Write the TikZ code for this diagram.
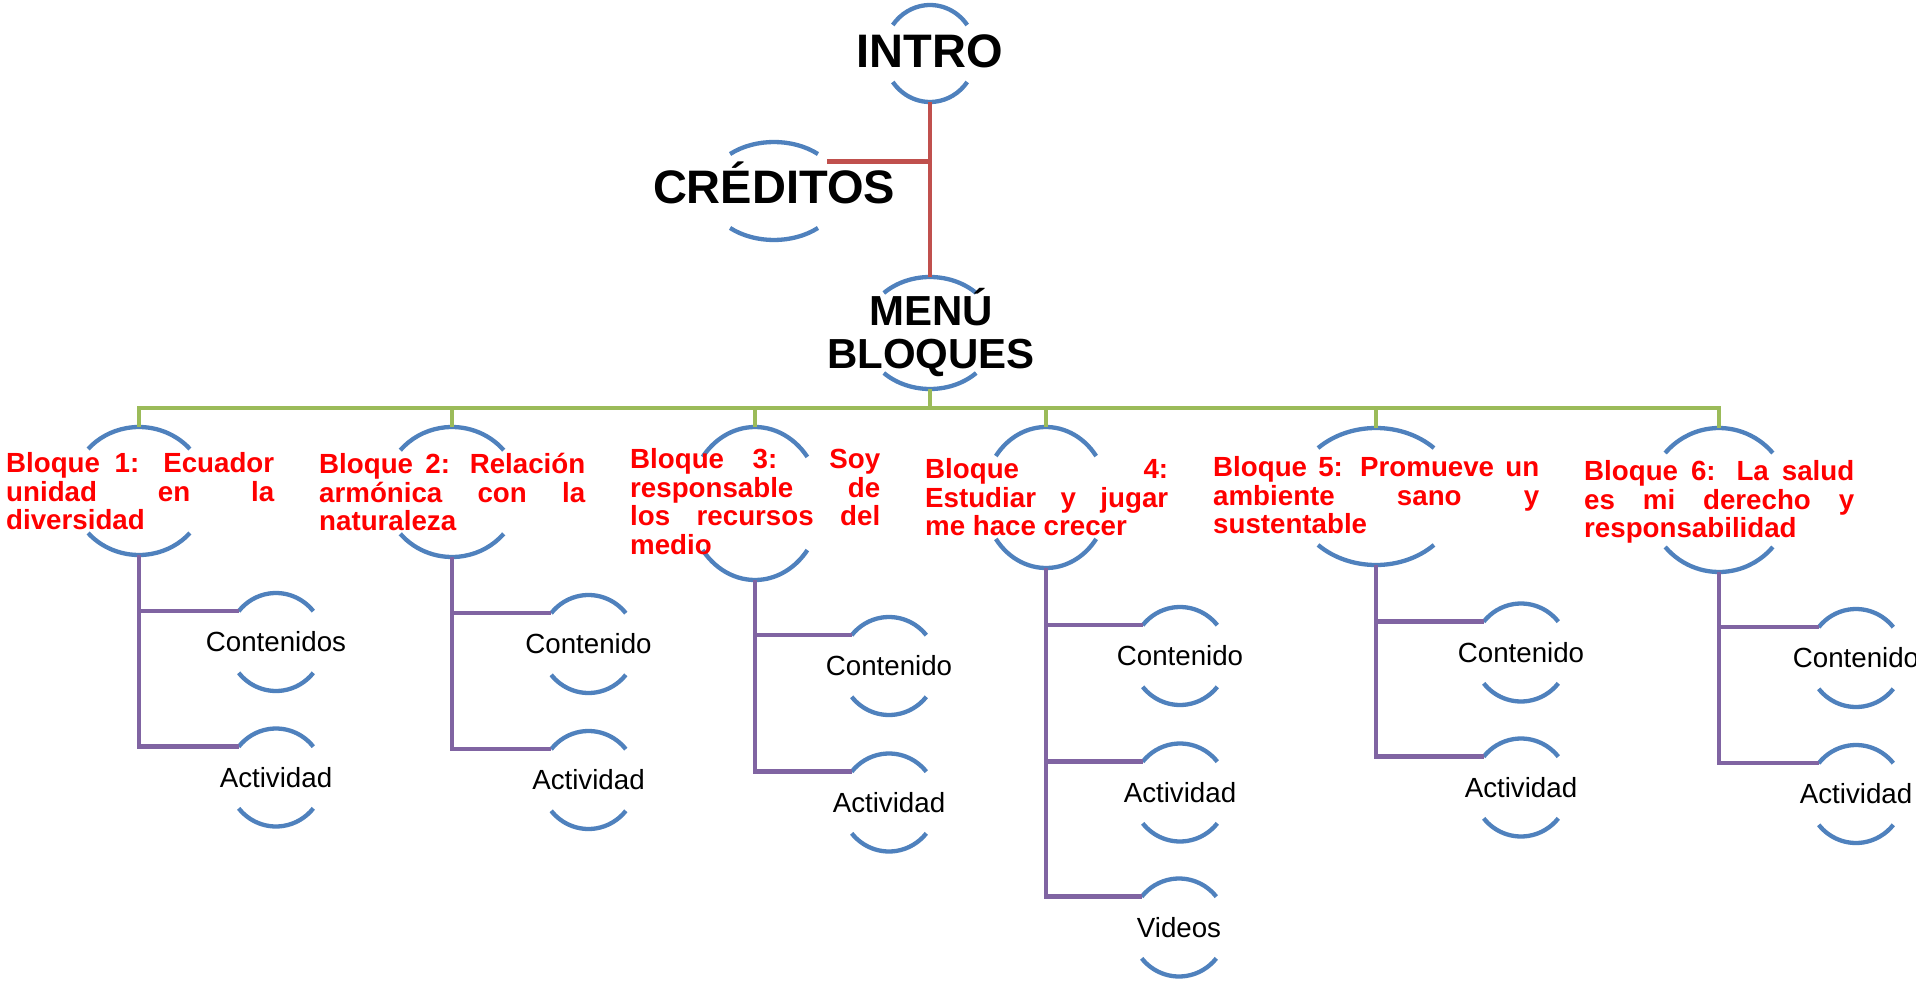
\documentclass[tikz,border=0pt]{standalone}
\usepackage{fontspec}
\setmainfont{Liberation Sans}
\usetikzlibrary{shapes.geometric}
\definecolor{ringblue}{HTML}{4F81BD}
\definecolor{lnred}{HTML}{C0504D}
\definecolor{lngreen}{HTML}{9BBB59}
\definecolor{lnpurple}{HTML}{8064A2}
\definecolor{txtred}{HTML}{FF0000}
\tikzset{
  ring/.style={draw=ringblue, line width=4.3pt},
  ringshape/.style={ellipse, draw=none, inner sep=0pt, outer sep=0pt},
  redline/.style={draw=lnred, line width=4.3pt},
  greenline/.style={draw=lngreen, line width=4.5pt},
  purpleline/.style={draw=lnpurple, line width=4.5pt},
  blocktext/.style={anchor=north west, inner sep=0pt, align=left, text=txtred,
    font=\bfseries\fontsize{27.7}{28.8}\selectfont},
  childtext/.style={inner sep=0pt, font=\fontsize{27.7}{30}\selectfont},
  toptext/.style={inner sep=0pt, anchor=base, font=\bfseries\fontsize{47}{48}\selectfont},
}
\newcommand\ringat[6]{%
  \node[ringshape, minimum width=2*#4pt, minimum height=2*#5pt] (#1) at (#2,-#3) {};
  \draw[ring] (#1.center) ++({#4*cos(#6)},{#5*sin(#6)}) arc[start angle=#6, end angle=180-#6, x radius=#4pt, y radius=#5pt];
  \draw[ring] (#1.center) ++({-#4*cos(#6)},{-#5*sin(#6)}) arc[start angle=180+#6, end angle=360-#6, x radius=#4pt, y radius=#5pt];
}
\begin{document}
\begin{tikzpicture}[x=1pt,y=1pt]
\useasboundingbox (0,0) rectangle (1916,-981);
\fill[white] (0,0) rectangle (1916,-981);

% rings
\ringat{intro}{930}{53.5}{46}{48.5}{36}
\ringat{credits}{774}{191}{67}{49}{49}
\ringat{menu}{930}{333}{66}{56}{45.6}
\ringat{b1}{139}{491}{67.5}{64}{41}
\ringat{b2}{452}{492}{67.5}{65}{40}
\ringat{b3}{755}{503.5}{66}{76.5}{37.5}
\ringat{b4}{1046}{497.5}{62}{70.5}{36}
\ringat{b5}{1376}{496.5}{82}{68.5}{45}
\ringat{b6}{1719}{500}{71}{72}{40.7}
\ringat{c11}{276}{642}{48}{49}{39}
\ringat{c12}{276}{777.5}{48}{49}{39}
\ringat{c21}{588.5}{644}{48}{49}{39}
\ringat{c22}{588.5}{780}{48}{49}{39}
\ringat{c31}{889}{666}{48}{49}{39}
\ringat{c32}{889}{802.5}{48}{49}{39}
\ringat{c41}{1180}{656}{48}{49}{39}
\ringat{c42}{1180}{792.5}{48}{49}{39}
\ringat{c43}{1179}{927.5}{48}{49}{39}
\ringat{c51}{1521}{652.5}{48}{49}{39}
\ringat{c52}{1521}{787.5}{48}{49}{39}
\ringat{c61}{1856}{658}{48}{49}{39}
\ringat{c62}{1856}{794}{48}{49}{39}

% red connectors
\draw[redline] (intro.south) -- (menu.north);
\coordinate (rj) at (intro.south |- credits.29.5);
\draw[redline] (credits.29.5) -- (rj);

% green connectors
\coordinate (gj) at (930,-408);
\draw[greenline] (menu.south) -- (gj);
\foreach \b in {b1,b2,b3,b4,b5,b6}{\draw[greenline] (gj) -| (\b.north);}

% purple connectors
\draw[purpleline] (b1.south) |- (c11.140.5);
\draw[purpleline] (b1.south) |- (c12.140.5);
\draw[purpleline] (b2.south) |- (c21.140.5);
\draw[purpleline] (b2.south) |- (c22.140.5);
\draw[purpleline] (b3.south) |- (c31.140.5);
\draw[purpleline] (b3.south) |- (c32.140.5);
\draw[purpleline] (b4.south) |- (c41.140.5);
\draw[purpleline] (b4.south) |- (c42.140.5);
\draw[purpleline] (b4.south) |- (c43.140.5);
\draw[purpleline] (b5.south) |- (c51.140.5);
\draw[purpleline] (b5.south) |- (c52.140.5);
\draw[purpleline] (b6.south) |- (c61.140.5);
\draw[purpleline] (b6.south) |- (c62.140.5);

% top texts
\node[toptext] (tintro) at (930,-68) {INTRO};
\node[toptext] (tcredits) at (774,-204) {CRÉDITOS};
\node[inner sep=0pt, anchor=north, align=center, font=\bfseries\fontsize{42}{43}\selectfont] (tmenu) at (931,-285) {\rule{0pt}{40pt}MENÚ\\BLOQUES};

% block texts
\node[blocktext] (tb1) at (6,-448) {\rule{0pt}{24pt}\makebox[268pt][s]{Bloque 1: Ecuador}\\\makebox[268pt][s]{unidad en la}\\diversidad};
\node[blocktext] (tb2) at (319,-449) {\rule{0pt}{24pt}\makebox[266pt][s]{Bloque 2: Relación}\\\makebox[266pt][s]{armónica con la}\\naturaleza};
\node[blocktext] (tb3) at (630,-444) {\rule{0pt}{24pt}\makebox[250pt][s]{Bloque 3: Soy}\\\makebox[250pt][s]{responsable de}\\\makebox[250pt][s]{los recursos del}\\medio};
\node[blocktext] (tb4) at (925,-454) {\rule{0pt}{24pt}\makebox[243pt][s]{Bloque 4:}\\\makebox[243pt][s]{Estudiar y jugar}\\me hace crecer};
\node[blocktext] (tb5) at (1213,-452) {\rule{0pt}{24pt}\makebox[326pt][s]{Bloque 5: Promueve un}\\\makebox[326pt][s]{ambiente sano y}\\sustentable};
\node[blocktext] (tb6) at (1584,-456) {\rule{0pt}{24pt}\makebox[270pt][s]{Bloque 6: La salud}\\\makebox[270pt][s]{es mi derecho y}\\responsabilidad};

% child texts
\node[childtext] (t11) at (c11) {Contenidos};
\node[childtext] (t12) at (c12) {Actividad};
\node[childtext] (t21) at (c21) {Contenido};
\node[childtext] (t22) at (c22) {Actividad};
\node[childtext] (t31) at (c31) {Contenido};
\node[childtext] (t32) at (c32) {Actividad};
\node[childtext] (t41) at (c41) {Contenido};
\node[childtext] (t42) at (c42) {Actividad};
\node[childtext] (t43) at (c43) {Videos};
\node[childtext] (t51) at (c51) {Contenido};
\node[childtext] (t52) at (c52) {Actividad};
\node[childtext] (t61) at (c61) {Contenido};
\node[childtext] (t62) at (c62) {Actividad};
\end{tikzpicture}
\end{document}
